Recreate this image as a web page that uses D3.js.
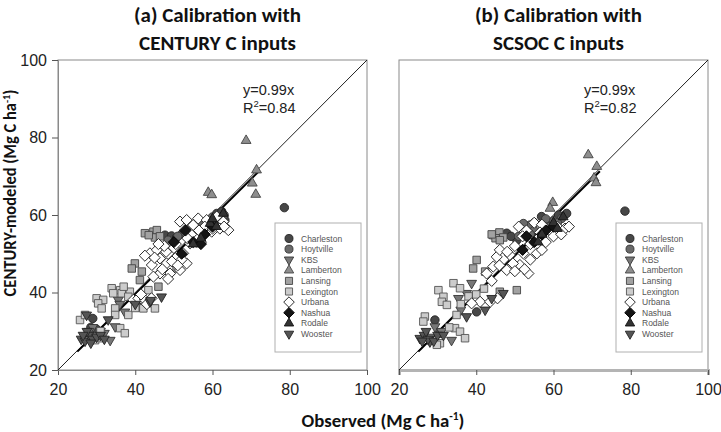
<!DOCTYPE html>
<html><head><meta charset="utf-8">
<script src="https://cdn.jsdelivr.net/npm/d3@7/dist/d3.min.js"></script>
<style>body{margin:0;background:#fff}svg{display:block}</style>
</head><body>
<svg id="chart" width="721" height="432"></svg>
<script>
// ---------- data ----------
const sites = ["Charleston","Hoytville","KBS","Lamberton","Lansing","Lexington","Urbana","Nashua","Rodale","Wooster"];
const ticks = [20,40,60,80,100];
const panelTitles = [["(a) Calibration with","CENTURY C inputs"],["(b) Calibration with","SCSOC C inputs"]];
const fitText = [["y=0.99x","R","2","=0.84"],["y=0.99x","R","2","=0.82"]];

// Panel (a): [observed, modeled]
const aCharleston = [[29,33.3],[28.5,31],[40.8,36.3],[47.7,54.8],[49.4,54.6],[50.7,54.2],[52,55],[61.1,60.4],[62.4,60.9],[63.2,58.7],[78.6,61.9],[55,57],[58,58],[30,30.5]];
const aHoytville = [[53,55.5],[55,56],[57,57.5],[59,57],[60,59.5],[62,59],[63,60],[56,55],[58.5,56.5],[54,57],[48.5,53.5],[51,54.5],[61,58.5]];
const aKBS = [[30,29],[31,30],[29,31],[32,29.5],[35.6,38.1],[37.3,35],[33.5,27.7],[34.8,31.2],[28,30],[36,37],[39,38.5]];
const aLamberton = [[58.9,65.8],[59.8,65.2],[68.7,79.2],[71.4,71.6],[70.3,68.2],[71.2,65.3]];
const aLansing = [[42.5,55.3],[44.7,55.7],[45.6,56.1],[45.1,54.2],[46.4,54.5],[39.9,47.5],[39.1,46.2],[41.7,45.4],[50.7,46.2],[46,41.5],[41.2,43.2],[43.5,54.8]];
const aLexington = [[33.9,41.1],[36.1,40.6],[34.3,39.8],[36.5,39.8],[38.6,40.2],[38.2,38.9],[30,38.5],[31.7,38.1],[30.4,37.2],[31.3,35.9],[34.8,35.9],[34.8,34.2],[38.2,34.2],[42.1,35.9],[45.1,35.9],[43.4,40.6],[25.7,32.9],[27,34.2],[36.1,30.8],[37.3,29.5],[30.9,28.2],[29.6,27.7],[31,30],[29,28.5],[37,41.5],[40,36]];
const aUrbana = [[43.8,50.1],[45.6,51],[46.4,48.8],[44.3,47.1],[48.1,47.5],[50.7,49.2],[52.4,50.1],[53.3,47.5],[51.6,45.8],[49,44.9],[46.4,44.9],[44.7,44.1],[54.2,52.7],[55.9,53.1],[51.6,58.3],[53.3,58.7],[55,57.4],[56.3,59.1],[58.5,58.7],[61.1,59.6],[62.8,58.3],[64.1,56.1],[61.9,56.5],[59.8,55.7],[57.6,54.8],[55.9,54],[52.9,56.1],[39.5,38.1],[40.8,38.5],[42.5,38.1],[44.2,38.5],[48,50.5],[50,51.5],[47,46],[49.5,48],[52,48.5],[54.5,55],[58,57],[60,56.5],[63,57],[56.5,56],[53.5,54],[47.5,52],[50.5,52.5],[45,49],[42.5,49.5],[41.5,39.5],[43,37],[48.5,43.5],[51,47],[46,52.5],[57,53]];
const aNashua = [[55,53],[57,52.5],[52,50],[58,55],[60,57],[53,56],[50,53]];
const aRodale = [[59.4,57.8],[62.8,60.4],[57,54],[61,57],[55,52.5],[60,59]];
const aWooster = [[26,28],[27,27.5],[28,29],[29,28],[30,28.5],[27.5,30],[26.5,29],[31,29],[28.5,27],[43.8,37.6],[46.8,38.9],[27.4,34.2],[33,33],[40,37],[44,38],[32,28]];

// Panel (b)
const bCharleston = [[29.3,32.9],[30.6,29.5],[40.1,35],[47.9,55.3],[50.5,53.5],[49,54.5],[56.9,59.6],[61.3,60],[63.4,60.4],[78.5,61],[55,58],[58,58.5]];
const bHoytville = [[53.9,57.4],[52.2,57.8],[62.1,59.1],[55,56],[57,57.5],[59,57],[60,58.5],[58,59],[54,55],[51,54.5],[61,58]];
const bKBS = [[38.8,42.4],[37.5,39.8],[35.4,38.5],[33.6,27.7],[29.3,31.2],[31,30],[28,28.5],[36,35.5]];
const bLamberton = [[69,75.5],[71.2,72.5],[70.5,69.5],[71,68.3],[59.8,63.2],[59.1,61.7]];
const bLansing = [[44.4,54.8],[46,55.5],[45,54],[47,54.2],[40.1,48.4],[39.2,46.2],[42.3,45.4],[50.5,40.6],[46.1,40.2],[46.1,53.5],[44,55]];
const bLexington = [[30.2,40.6],[34.1,42.4],[35.8,41.1],[31.5,38.9],[31.1,37.6],[32.4,36.8],[34.9,34.2],[34.5,30.8],[35.8,29.9],[37.1,28.2],[26.7,33.8],[26.3,32.5],[30.6,26.9],[29.8,26.5],[38,39],[36,37],[40,39.5],[42,41],[33,31]];
const bUrbana = [[42.7,44.9],[45.3,49.2],[48.7,49.7],[52.2,50.1],[51.3,47.1],[53.5,44.9],[47.9,45.8],[55.7,50.1],[44.4,46.7],[46.1,51],[41,37.6],[43.6,37.6],[38.8,37.2],[51,57],[53,56],[55,58],[57,57.5],[59,56],[61,57],[63,56.5],[60,54.5],[58,53],[56,54],[54,52.5],[52,54.5],[50,52],[48,50.5],[49.5,47.5],[54,48.5],[57,51],[46,47],[44,43],[62,55],[64,57],[56.5,55.5],[50,45.5],[52.5,46],[45.5,38.5]];
const bNashua = [[55,53],[57,55],[52,51],[58,56],[60,57],[53,54.5]];
const bRodale = [[60,58],[62.5,59.5],[57,55],[61,56.5],[56,53]];
const bWooster = [[47,39.8],[44,38.5],[42.3,35.5],[37.5,33.8],[25.4,28.2],[28,27.3],[26.5,29],[27.5,28],[29,27.5],[30,29],[27,30],[31.5,29],[26,27.5]];

const panelData = [
  [aCharleston,aHoytville,aKBS,aLamberton,aLansing,aLexington,aUrbana,aNashua,aRodale,aWooster],
  [bCharleston,bHoytville,bKBS,bLamberton,bLansing,bLexington,bUrbana,bNashua,bRodale,bWooster]
];

// ---------- styles ----------
const shapes = ["circle","circle","down","up","square","square","diamond","diamond","up","down"];
const fills  = ["#474747","#6a6a6a","#777777","#8e8e8e","#a2a2a2","#cccccc","#ffffff","#151515","#333333","#555555"];
const strokes= ["#222","#333","#333","#444","#444","#555","#222","#000","#111","#222"];

function symbolPath(shape, scale){
  if(shape==="circle") return {d:d3.symbol(d3.symbolCircle, 56*scale)(), rot:0};
  if(shape==="square") return {d:d3.symbol(d3.symbolSquare, 56*scale)(), rot:0};
  if(shape==="diamond") return {d:d3.symbol(d3.symbolSquare, 62*scale)(), rot:45};
  if(shape==="up") return {d:d3.symbol(d3.symbolTriangle, 42*scale)(), rot:0};
  return {d:d3.symbol(d3.symbolTriangle, 42*scale)(), rot:180};
}

const svg = d3.select("#chart");
const panels = [{x0:58,x1:367},{x0:399,x1:708}];
const yTop = 60, yBot = 370;
const sansFont = "'Liberation Sans', Arial, sans-serif";
const boldFont = "Carlito, Calibri, 'Noto Sans', sans-serif";

function fitWidth(sel, target){
  const w = sel.node().getComputedTextLength();
  return target / w;
}

panels.forEach((p, pi) => {
  const x = d3.scaleLinear().domain([20,100]).range([p.x0,p.x1]);
  const y = d3.scaleLinear().domain([20,100]).range([yBot,yTop]);
  const g = svg.append("g");

  g.append("rect").attr("x",p.x0).attr("y",yTop).attr("width",p.x1-p.x0).attr("height",yBot-yTop)
    .attr("fill","none").attr("stroke","#8a8a8a").attr("stroke-width",1);

  const xa = g.append("g").attr("transform",`translate(0,${yBot})`)
    .call(d3.axisBottom(x).tickValues(ticks).tickSize(5).tickPadding(9).tickFormat(d3.format("d")));
  xa.select(".domain").attr("stroke", pi===1 ? "#b4b4b4" : "#8a8a8a").attr("stroke-width", pi===1?3:1);
  xa.selectAll(".tick line").attr("stroke","#555");
  xa.selectAll("text").attr("font-family",sansFont).attr("font-size",16).attr("fill","#222");

  if(pi===0){
    const ya = g.append("g").attr("transform",`translate(${p.x0},0)`)
      .call(d3.axisLeft(y).tickValues(ticks).tickSize(6).tickPadding(5).tickFormat(d3.format("d")));
    ya.select(".domain").attr("stroke","#8a8a8a");
    ya.selectAll(".tick line").attr("stroke","#555");
    ya.selectAll("text").attr("font-family",sansFont).attr("font-size",16).attr("fill","#222");
  }

  g.append("line").attr("x1",x(20)).attr("y1",y(20)).attr("x2",x(100)).attr("y2",y(100))
    .attr("stroke","#222").attr("stroke-width",1);
  g.append("line").attr("x1",x(25)).attr("y1",y(25*0.99)).attr("x2",x(72)).attr("y2",y(72*0.99))
    .attr("stroke","#000").attr("stroke-width",2);

  panelData[pi].forEach((arr, si) => {
    const sp = symbolPath(shapes[si], 1);
    g.append("g").selectAll("path").data(arr).join("path")
      .attr("d", sp.d)
      .attr("transform", d => `translate(${x(d[0])},${y(d[1])}) rotate(${sp.rot})`)
      .attr("fill", fills[si]).attr("stroke", strokes[si]).attr("stroke-width",0.9);
  });

  const ann = fitText[pi];
  g.append("text").attr("x",p.x0+185).attr("y",95).attr("font-family",sansFont).attr("font-size",14.5).attr("fill","#222").text(ann[0]);
  const t2 = g.append("text").attr("x",p.x0+185).attr("y",113).attr("font-family",sansFont).attr("font-size",14.5).attr("fill","#222");
  t2.append("tspan").text(ann[1]);
  t2.append("tspan").attr("dy",-6).attr("font-size",9.5).text(ann[2]);
  t2.append("tspan").attr("dy",6).text(ann[3]);

  const lx = p.x0+217, ly = 223;
  g.append("rect").attr("x",lx).attr("y",ly).attr("width",86).attr("height",129)
    .attr("fill","#fff").attr("stroke","#b0b0b0").attr("stroke-width",1);
  sites.forEach((s, si) => {
    const sp = symbolPath(shapes[si], 0.9);
    const yy = ly + 15.5 + si*10.6;
    g.append("path").attr("d",sp.d).attr("transform",`translate(${lx+14},${yy}) rotate(${sp.rot})`)
      .attr("fill",fills[si]).attr("stroke",strokes[si]).attr("stroke-width",0.9);
    g.append("text").attr("x",lx+26).attr("y",yy+3).attr("font-family",sansFont).attr("font-size",8.5)
      .attr("fill","#555").text(s);
  });

  const cx = (p.x0+p.x1)/2 + 5;
  const tw = [167, pi===0?157:131];
  panelTitles[pi].forEach((line, li) => {
    const t = svg.append("text").attr("text-anchor","middle").attr("font-family",boldFont)
      .attr("font-weight","bold").attr("font-size",21).attr("fill","#111").text(line);
    const k = fitWidth(t, tw[li]);
    t.attr("transform",`translate(${cx},${li===0?22:50}) scale(${k},1)`);
  });
});

const xt = svg.append("text").attr("text-anchor","middle").attr("font-family",boldFont)
  .attr("font-weight","bold").attr("font-size",18).attr("fill","#111");
xt.append("tspan").text("Observed (Mg C ha");
xt.append("tspan").attr("dy",-7).attr("font-size",11).text("-1");
xt.append("tspan").attr("dy",7).text(")");
xt.attr("transform",`translate(383,427) scale(${fitWidth(xt,163)},1)`);

const yt = svg.append("text").attr("text-anchor","middle").attr("font-family",boldFont)
  .attr("font-weight","bold").attr("font-size",17).attr("fill","#111");
yt.append("tspan").text("CENTURY-modeled (Mg C ha");
yt.append("tspan").attr("dy",-6).attr("font-size",10.5).text("-1");
yt.append("tspan").attr("dy",6).text(")");
yt.attr("transform",`translate(16,193) rotate(-90) scale(${fitWidth(yt,207)},1)`);
</script>
</body></html>
